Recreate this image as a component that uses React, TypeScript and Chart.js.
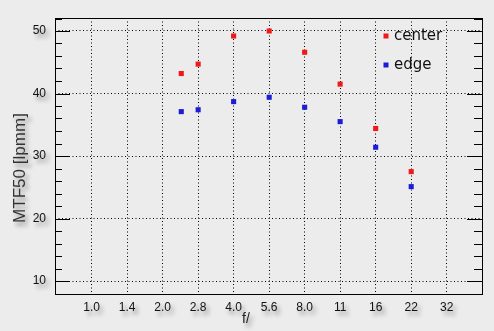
import React, { useEffect, useRef } from "react";
import { Chart, registerables } from "chart.js";

Chart.register(...registerables);

// ---- data ----
const fNumbers = [2.4, 2.83, 4.0, 5.66, 8.0, 11.31, 16.0, 22.63];
const centerValues = [43.2, 44.7, 49.2, 50.0, 46.6, 41.5, 34.4, 27.5];
const edgeValues = [37.1, 37.4, 38.7, 39.4, 37.8, 35.5, 31.4, 25.1];

const xTickValues = [1, 1.414, 2, 2.828, 4, 5.657, 8, 11.31, 16, 22.63, 32];
const xTickLabels = ["1.0", "1.4", "2.0", "2.8", "4.0", "5.6", "8.0", "11", "16", "22", "32"];
const yTickValues = [10, 20, 30, 40, 50];

const seriesLabels = ["center", "edge"];
const seriesColors = ["#f01818", "#1c1cd8"];

const xTitle = "f/";
const yTitle = "MTF50 [lpmm]";

const SANS = "'Liberation Sans', Arial, sans-serif";

function setShadow(c: CanvasRenderingContext2D) {
  c.shadowColor = "rgba(0,0,0,0.4)";
  c.shadowOffsetX = 3;
  c.shadowOffsetY = 4;
  c.shadowBlur = 4;
}

const decorPlugin = {
  id: "decor",
  beforeDraw(chart: any) {
    const { ctx, width, height } = chart;
    ctx.save();
    ctx.fillStyle = "#ececec";
    ctx.fillRect(0, 0, width, height);
    ctx.restore();
    Object.values(chart.scales).forEach((s: any) => {
      if (s._shadowWrapped) return;
      const orig = s.drawLabels.bind(s);
      s.drawLabels = (area: any) => {
        const c = s.ctx;
        c.save();
        setShadow(c);
        orig(area);
        c.restore();
      };
      s._shadowWrapped = true;
    });
  },
  afterDraw(chart: any) {
    const { ctx, chartArea: a } = chart;
    const y = chart.scales.y;
    ctx.save();
    ctx.strokeStyle = "#000";
    ctx.lineWidth = 1;
    ctx.setLineDash([]);
    ctx.strokeRect(a.left + 0.5, a.top + 0.5, a.right - a.left - 1, a.bottom - a.top);

    // inward tick marks, major and minor, left and right
    const minor: number[] = [];
    for (let v = Math.ceil(y.min / 2) * 2; v <= y.max; v += 2) {
      if (v % 10 !== 0) minor.push(v);
    }
    ctx.beginPath();
    yTickValues.forEach((v) => {
      const py = Math.round(y.getPixelForValue(v)) + 0.5;
      ctx.moveTo(a.left, py);
      ctx.lineTo(a.left + 15, py);
      ctx.moveTo(a.right - 16, py);
      ctx.lineTo(a.right, py);
    });
    minor.forEach((v) => {
      const py = Math.round(y.getPixelForValue(v)) + 0.5;
      ctx.moveTo(a.left, py);
      ctx.lineTo(a.left + 7, py);
      ctx.moveTo(a.right - 9, py);
      ctx.lineTo(a.right, py);
    });
    ctx.stroke();

    // legend inside the plot
    const lx = a.right - 97;
    chart.data.datasets.forEach((ds: any, i: number) => {
      const cy = a.top + 18 + i * 29;
      ctx.fillStyle = ds.backgroundColor;
      ctx.fillRect(lx - 2.5, cy - 2.5, 5, 5);
      ctx.fillStyle = "#111";
      ctx.font = "15px 'DejaVu Sans', sans-serif";
      ctx.textAlign = "left";
      ctx.textBaseline = "alphabetic";
      ctx.fillText(ds.label, lx + 8, cy + 4);
    });

    // axis titles with shadow
    setShadow(ctx);
    ctx.fillStyle = "#222";
    ctx.font = `14px ${SANS}`;
    ctx.textAlign = "center";
    ctx.fillText(xTitle, a.left + 191, 323);

    ctx.save();
    ctx.translate(25, 168);
    ctx.rotate(-Math.PI / 2);
    ctx.fillStyle = "#333";
    ctx.font = `17px ${SANS}`;
    const w = ctx.measureText(yTitle).width;
    ctx.scale(110 / w, 1);
    ctx.textAlign = "center";
    ctx.fillText(yTitle, 0, 0);
    ctx.restore();

    ctx.restore();
  },
};

export default function App() {
  const ref = useRef<HTMLCanvasElement | null>(null);

  useEffect(() => {
    if (!ref.current) return;
    const tickFont = { family: SANS, size: 12 };
    const chart = new Chart(ref.current, {
      type: "scatter",
      data: {
        datasets: [
          {
            label: seriesLabels[0],
            data: fNumbers.map((f, i) => ({ x: f, y: centerValues[i] })),
            backgroundColor: seriesColors[0],
            borderWidth: 0,
            pointStyle: "rect",
            pointRadius: 3.6,
          },
          {
            label: seriesLabels[1],
            data: fNumbers.map((f, i) => ({ x: f, y: edgeValues[i] })),
            backgroundColor: seriesColors[1],
            borderWidth: 0,
            pointStyle: "rect",
            pointRadius: 3.6,
          },
        ],
      },
      options: {
        responsive: false,
        animation: false,
        devicePixelRatio: 1,
        layout: { padding: { left: 0, top: 18, right: 11, bottom: 0 } },
        plugins: { legend: { display: false }, tooltip: { enabled: false } },
        scales: {
          x: {
            type: "logarithmic",
            min: 0.707,
            max: 45.6,
            afterBuildTicks: (s: any) => {
              s.ticks = xTickValues.map((v) => ({ value: v }));
            },
            afterFit: (s: any) => {
              s.height = 37;
            },
            grid: { color: "#000", lineWidth: 1, drawTicks: false },
            border: { display: false, dash: [1, 2.5] },
            ticks: {
              autoSkip: false,
              maxRotation: 0,
              minRotation: 0,
              padding: 6,
              color: "#111",
              font: tickFont,
              callback: (_v: any, i: number) => xTickLabels[i],
            },
          },
          y: {
            type: "linear",
            min: 7.92,
            max: 52.08,
            afterBuildTicks: (s: any) => {
              s.ticks = yTickValues.map((v) => ({ value: v }));
            },
            afterFit: (s: any) => {
              s.width = 55;
            },
            grid: { color: "#000", lineWidth: 1, drawTicks: false },
            border: { display: false, dash: [1, 2.5] },
            ticks: {
              padding: 9,
              color: "#111",
              font: tickFont,
              callback: (v: any) => String(v),
            },
          },
        },
      },
      plugins: [decorPlugin],
    } as any);
    return () => chart.destroy();
  }, []);

  return (
    <div style={{ position: "absolute", left: 0, top: 0, width: 494, height: 331 }}>
      <canvas ref={ref} width={494} height={331} style={{ display: "block" }} />
    </div>
  );
}
